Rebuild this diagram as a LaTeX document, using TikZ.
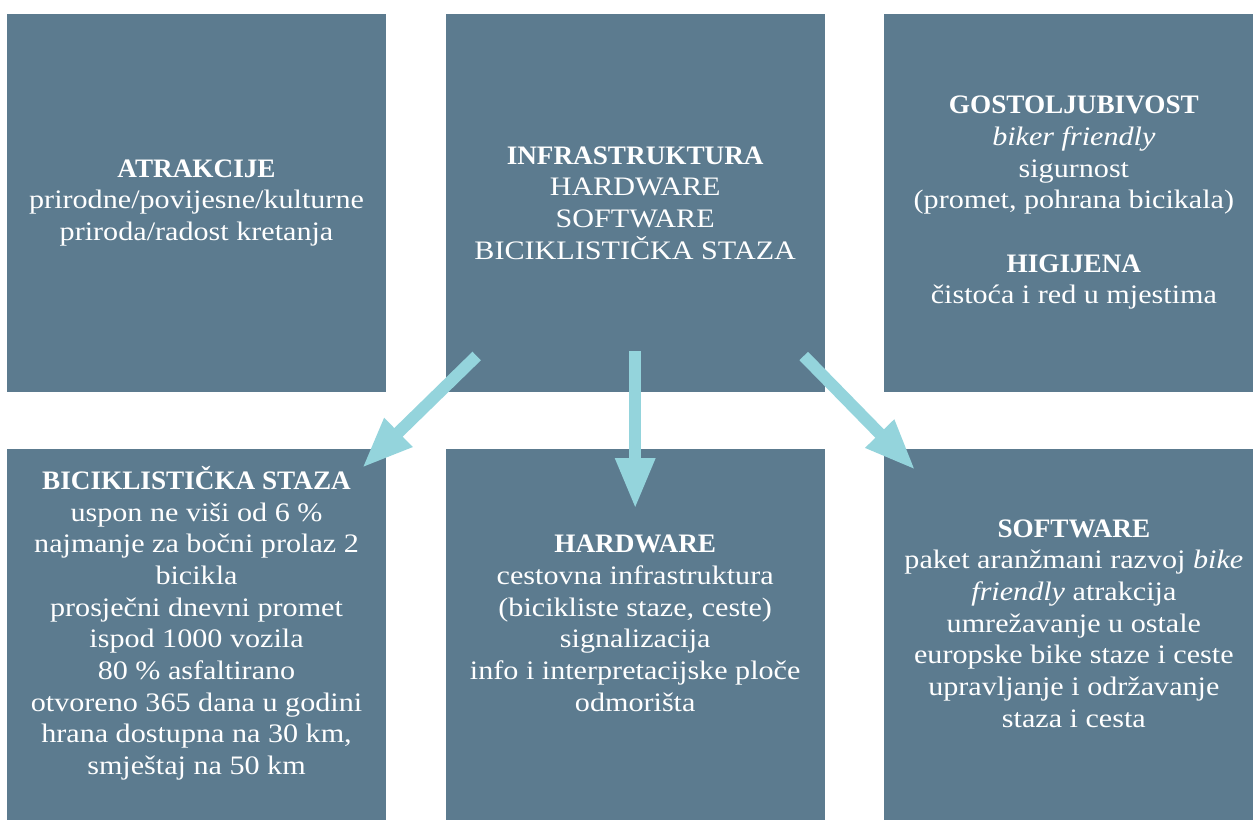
\documentclass[tikz,border=0pt]{standalone}
\usepackage{fontspec}
\setmainfont[FakeStretch=1.13, BoldFeatures={FakeStretch=1.02}]{Liberation Serif}
\usetikzlibrary{arrows.meta}
\definecolor{boxblue}{HTML}{5C7B8F}
\definecolor{arrowcyan}{HTML}{94D4DC}

\begin{document}
\begin{tikzpicture}[>={Triangle[width=27.75pt,length=38.25pt]}, node distance=329pt]
	\tikzstyle{block} = [fill=boxblue, minimum width=284.25pt, minimum height=283.5pt, inner sep=0pt]
	\tikzstyle{txt} = [text=white, align=center, inner sep=0pt, font=\fontsize{20}{23.75}\selectfont]
	\tikzstyle{flow} = [->, arrowcyan, line width=9pt]

	\useasboundingbox (0,0) rectangle (939.75pt,-615pt);
	\clip (0,0) rectangle (939.75pt,-615pt);

	% top row
	\node[block, txt] (atr) at (147.4pt,-152.25pt) {\textbf{ATRAKCIJE}\\ prirodne/povijesne/kulturne\\ priroda/radost kretanja};
	\node[block, txt, right of=atr] (infra) {\textbf{INFRASTRUKTURA}\\ HARDWARE\\ SOFTWARE\\ BICIKLISTIČKA STAZA};
	\node[block, txt, right of=infra] (gost) {\textbf{GOSTOLJUBIVOST}\\ \textit{biker friendly}\\ sigurnost\\ (promet, pohrana bicikala)\\[23.75pt] \textbf{HIGIJENA}\\ čistoća i red u mjestima};

	% bottom row
	\node[block, node distance=326.25pt, below of=atr] (bike) {};
	\node[block, node distance=326.25pt, below of=infra] (hard) {};
	\node[block, node distance=326.25pt, below of=gost] (soft) {};

	\node[txt, node distance=11pt, above of=bike] (biketxt) {\textbf{BICIKLISTIČKA STAZA}\\ uspon ne viši od 6 \%\\ najmanje za bočni prolaz 2\\ bicikla\\ prosječni dnevni promet\\ ispod 1000 vozila\\ 80 \% asfaltirano\\ otvoreno 365 dana u godini\\ hrana dostupna na 30 km,\\ smještaj na 50 km};
	\node[txt, node distance=11pt, above of=hard] (hardtxt) {\textbf{HARDWARE}\\ cestovna infrastruktura\\ (bicikliste staze, ceste)\\ signalizacija\\ info i interpretacijske ploče\\ odmorišta};
	\node[txt, node distance=11pt, above of=soft] (softtxt) {\textbf{SOFTWARE}\\ paket aranžmani razvoj \textit{bike}\\ \textit{friendly} atrakcija\\ umrežavanje u ostale\\ europske bike staze i ceste\\ upravljanje i održavanje\\ staza i cesta};

	% arrow ends
	\coordinate (infra-l) at ([shift={(-118.9pt,-114.75pt)}]infra.center);
	\coordinate (infra-m) at ([shift={(0pt,-111pt)}]infra.center);
	\coordinate (infra-r) at ([shift={(126.4pt,-114.75pt)}]infra.center);
	\coordinate (bike-in) at ([shift={(124.1pt,127.5pt)}]bike.center);
	\coordinate (hard-in) at ([shift={(0pt,96.75pt)}]hard.center);
	\coordinate (soft-in) at ([shift={(-118.9pt,126pt)}]soft.center);

	\draw[flow] (infra-l) -- (bike-in);
	\draw[flow] (infra-m) -- (hard-in);
	\draw[flow] (infra-r) -- (soft-in);
\end{tikzpicture}
\end{document}
